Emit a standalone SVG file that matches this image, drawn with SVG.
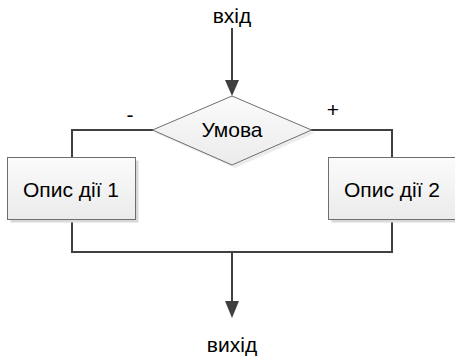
<svg xmlns="http://www.w3.org/2000/svg" width="455" height="360" viewBox="0 0 455 360">
<defs>
<linearGradient id="g" x1="0" y1="0" x2="0" y2="1">
<stop offset="0" stop-color="#fbfbfb"/>
<stop offset="1" stop-color="#ebebeb"/>
</linearGradient>
<marker id="arr" markerWidth="14" markerHeight="18" refX="7" refY="17" orient="auto" markerUnits="userSpaceOnUse" viewBox="0 0 14 18">
<path d="M0,0 L14,0 L7,17 Z" fill="#404040" transform="rotate(-90 7 9) translate(-2,2)"/>
</marker>
</defs>
<style>
text{font-family:"Liberation Sans",Arial,sans-serif;font-size:21px;fill:#000;text-anchor:middle}
.box{fill:url(#g);stroke:#6e6e6e;stroke-width:1}
.sh{fill:#d9d9d9}
.ln{fill:none;stroke:#404040;stroke-width:2}
.ah{fill:#404040}
</style>
<g id="connectors">
<line class="ln" x1="232" y1="28" x2="232" y2="82"/>
<polygon class="ah" points="225,80 239,80 232,96"/>
<polyline class="ln" points="153,130 72,130 72,157.5"/>
<polyline class="ln" points="311,130 392,130 392,157.5"/>
<polyline class="ln" points="72,219.5 72,252 392,252 392,219.5"/>
<line class="ln" x1="232" y1="252" x2="232" y2="303"/>
<polygon class="ah" points="225,301 239,301 232,318"/>
<text x="130" y="122">-</text>
<text x="333" y="117">+</text>
</g>
<g id="entry"><text x="232" y="23">вхід</text></g>
<g id="condition">
<polygon class="sh" points="235,99 314.5,133 235,168 155.5,133" opacity="0.5"/>
<polygon class="box" points="232,96 311.5,130 232,165 152.5,130"/>
<text x="232" y="137">Умова</text>
</g>
<g id="action1">
<rect class="sh" x="10.5" y="160.5" width="128" height="62"/>
<rect class="box" x="7.5" y="157.5" width="128" height="62"/>
<text x="71" y="197">Опис дії 1</text>
</g>
<g id="action2">
<rect class="sh" x="331.5" y="160.5" width="128" height="62"/>
<rect class="box" x="328.5" y="157.5" width="128" height="62"/>
<text x="392" y="197">Опис дії 2</text>
</g>
<g id="exit"><text x="232" y="352">вихід</text></g>
</svg>
